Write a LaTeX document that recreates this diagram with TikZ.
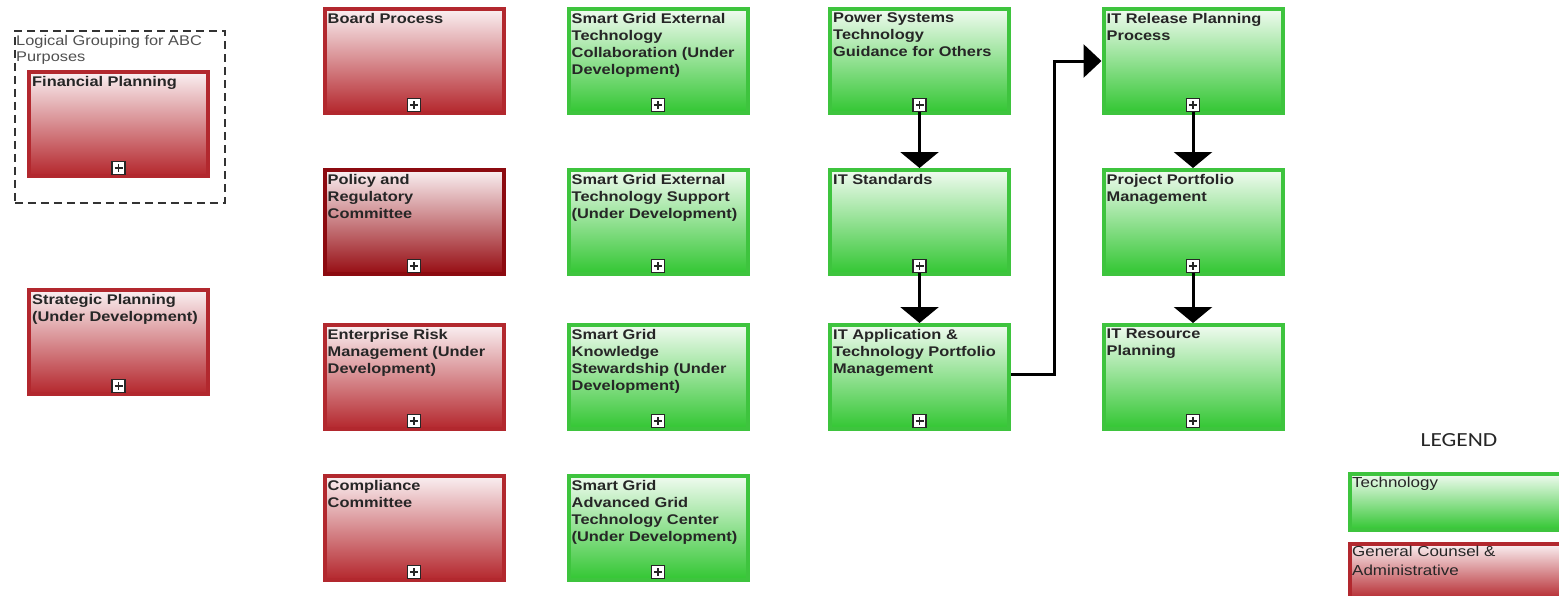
\documentclass[tikz,border=0pt]{standalone}
\usepackage{fontspec}
\setmainfont{Liberation Sans}[FakeStretch=1.17]
\newfontfamily\legendfont{Carlito}[FakeStretch=1.17]
\usetikzlibrary{arrows.meta}

\definecolor{redline}{RGB}{178,40,46}
\definecolor{redlinedark}{RGB}{140,10,16}
\definecolor{redtop}{RGB}{250,240,242}
\definecolor{redbot}{RGB}{180,38,44}
\definecolor{redbotdark}{RGB}{150,12,18}
\definecolor{greenline}{RGB}{62,196,62}
\definecolor{greentop}{RGB}{240,251,240}
\definecolor{greenbot}{RGB}{50,198,50}
\definecolor{textgray}{RGB}{38,38,38}
\definecolor{grouptext}{RGB}{80,80,80}

\tikzset{
  procbase/.style={rectangle, minimum width=179pt, minimum height=104pt,
    inner sep=0pt, line width=4pt},
  redbox/.style={procbase, draw=redline, top color=redtop, bottom color=redbot},
  darkredbox/.style={procbase, draw=redlinedark, top color=redtop, bottom color=redbotdark},
  greenbox/.style={procbase, draw=greenline, top color=greentop, bottom color=greenbot},
  boxtext/.style={anchor=north west, inner sep=0pt, align=left,
    font=\bfseries\fontsize{14}{17}\selectfont, text=textgray},
  plusicon/.style={rectangle, draw=black!85, fill=white, line width=1.2pt,
    minimum size=13pt, inner sep=0pt,
    path picture={\draw[line width=1.1pt]
      ([xshift=2.5pt]path picture bounding box.west) -- ([xshift=-2.5pt]path picture bounding box.east)
      ([yshift=-2.5pt]path picture bounding box.north) -- ([yshift=2.5pt]path picture bounding box.south);}},
  flowdown/.style={line width=3pt, -{Triangle[width=38pt,length=16pt]}},
  flowright/.style={line width=3pt, -{Triangle[width=33pt,length=18pt]}},
  groupframe/.style={draw=black!80, line width=1.6pt, dash pattern=on 8pt off 5pt},
  grouplabel/.style={anchor=north west, inner sep=0pt, align=left,
    font=\fontsize{14}{16}\selectfont, text=grouptext},
  legendtext/.style={anchor=north west, inner sep=0pt, align=left,
    font=\fontsize{14.5}{19}\selectfont, text=textgray},
}

% process box: name, style, centre x, centre y, title
\newcommand{\procbox}[5]{%
  \node[#2] (#1) at (#3,#4) {};
  \node[boxtext] (#1-t) at ([xshift=5pt,yshift=-6pt]#1.north west) {#5};
  \node[plusicon] (#1-p) at ([yshift=10pt]#1.south) {};
}

\begin{document}
\begin{tikzpicture}[x=1pt,y=-1pt]
\useasboundingbox[fill=white] (0,0) rectangle (1559,595);

% grouping frame
\node[groupframe, rectangle, minimum width=210pt, minimum height=172pt, inner sep=0pt,
  anchor=north west] (group) at (14,30) {};
\node[grouplabel] (group-t) at (16,35) {Logical Grouping for ABC\\Purposes};

% first column
\procbox{fin}{redbox}{118.5}{124}{Financial Planning}
\procbox{strat}{redbox}{118.5}{342}{Strategic Planning\\(Under Development)}

% second column
\procbox{board}{redbox}{414}{61}{Board Process}
\procbox{policy}{darkredbox}{414}{222}{Policy and\\Regulatory\\Committee}
\procbox{erm}{redbox}{414}{377}{Enterprise Risk\\Management (Under\\Development)}
\procbox{compl}{redbox}{414}{528}{Compliance\\Committee}

% third column
\procbox{sgcollab}{greenbox}{658}{61}{Smart Grid External\\Technology\\Collaboration (Under\\Development)}
\procbox{sgsupport}{greenbox}{658}{222}{Smart Grid External\\Technology Support\\(Under Development)}
\procbox{sgknow}{greenbox}{658}{377}{Smart Grid\\Knowledge\\Stewardship (Under\\Development)}
\procbox{sgadv}{greenbox}{658}{528}{Smart Grid\\Advanced Grid\\Technology Center\\(Under Development)}

% fourth column
\procbox{pst}{greenbox}{919.5}{61}{Power Systems\\Technology\\Guidance for Others}
\procbox{its}{greenbox}{919.5}{222}{IT Standards}
\procbox{itapp}{greenbox}{919.5}{377}{IT Application \&\\Technology Portfolio\\Management}

% fifth column
\procbox{itrel}{greenbox}{1193}{61}{IT Release Planning\\Process}
\procbox{ppm}{greenbox}{1193}{222}{Project Portfolio\\Management}
\procbox{itres}{greenbox}{1193}{377}{IT Resource\\Planning}

% connectors
\draw[flowdown] (pst-p.south) -- (its.north);
\draw[flowdown] (its-p.south) -- (itapp.north);
\draw[flowdown] (itrel-p.south) -- (ppm.north);
\draw[flowdown] (ppm-p.south) -- (itres.north);
\coordinate (bend) at (1054,374);
\draw[flowright] (itapp.east |- bend) -- (bend) |- (itrel.west);

% legend
\node[anchor=base, inner sep=0pt, font=\legendfont\fontsize{20}{24}\selectfont, text=textgray]
  (legend) at (1459,446) {LEGEND};
\node[greenbox, minimum width=230pt, minimum height=56pt, anchor=north west]
  (legtech) at (1348,472) {};
\node[legendtext] (legtech-t) at (1352,477) {Technology};
\node[redbox, minimum width=230pt, minimum height=56pt, anchor=north west]
  (leggc) at (1348,542) {};
\node[legendtext] (leggc-t) at (1352,546) {General Counsel \&\\Administrative};
\end{tikzpicture}
\end{document}
